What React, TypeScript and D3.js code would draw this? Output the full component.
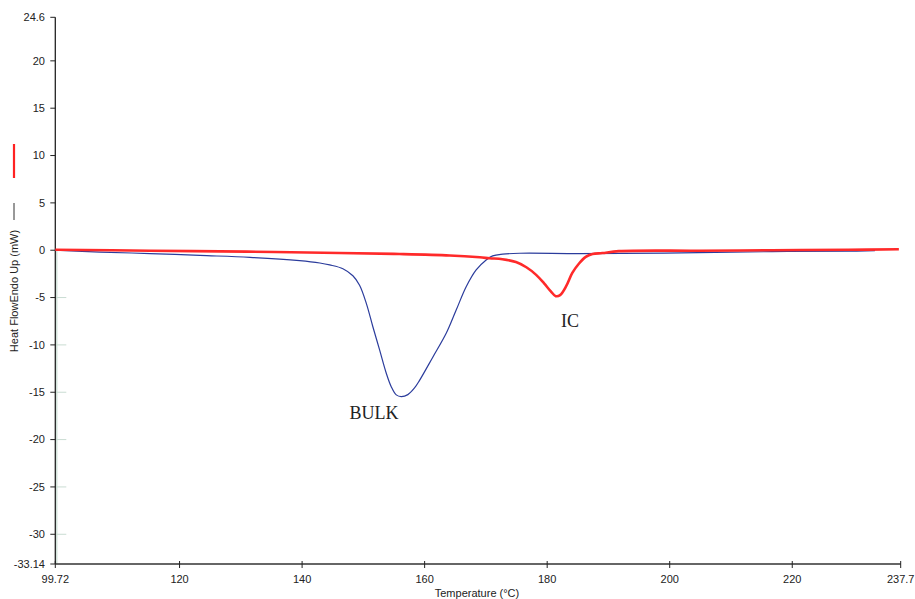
import React from "react";
import * as d3 from "d3";

const xTicks = [99.72, 120, 140, 160, 180, 200, 220, 237.7];
const yTicks = [24.6, 20, 15, 10, 5, 0, -5, -10, -15, -20, -25, -30, -33.14];

const bulkT = [99.72, 107.0, 115.2, 123.3, 131.5, 139.6, 142.9, 144.5, 146.66, 148.29, 149.38, 150.48, 151.55, 152.65, 153.74, 154.55, 155.37, 156.18, 157.26, 158.35, 159.17, 161.33, 163.52, 165.15, 166.78, 168.41, 170.04, 171.11, 172.74, 175.5, 185.2, 199.1, 216.7, 229.3, 233.5];
const bulkHF = [0, -0.2, -0.35, -0.55, -0.75, -1.1, -1.35, -1.55, -1.95, -2.7, -3.7, -5.61, -8.08, -10.53, -12.99, -14.41, -15.28, -15.46, -15.25, -14.55, -13.75, -11.3, -8.78, -6.32, -3.86, -2.08, -1.03, -0.6, -0.42, -0.32, -0.35, -0.3, -0.15, -0.1, -0.05];

const icT = [99.72, 115.2, 131.0, 146.1, 155.9, 164.1, 169.0, 170.6, 172.7, 174.9, 176.6, 178.2, 179.5, 180.6, 181.4, 182.1, 183.1, 184.1, 185.2, 186.3, 187.4, 189.0, 191.7, 204.8, 216.7, 229.2, 237.4];
const icHF = [0.05, -0.05, -0.15, -0.3, -0.4, -0.55, -0.75, -0.85, -0.95, -1.25, -1.8, -2.6, -3.5, -4.35, -4.85, -4.75, -3.8, -2.4, -1.4, -0.7, -0.4, -0.3, -0.1, -0.05, 0.0, 0.05, 0.1];

export default function App() {
  const x = d3.scaleLinear().domain([99.72, 237.7]).range([55.3, 900.7]);
  const y = d3.scaleLinear().domain([-33.14, 24.6]).range([564, 17.3]);
  const line = d3
    .line<[number, number]>()
    .x((d) => x(d[0]))
    .y((d) => y(d[1]))
    .curve(d3.curveCatmullRom.alpha(0.5));
  const bulk = bulkT.map((t, i) => [t, bulkHF[i]] as [number, number]);
  const ic = icT.map((t, i) => [t, icHF[i]] as [number, number]);
  const font = "Liberation Sans, Arial, sans-serif";
  const x0 = x(99.72);
  const yb = y(-33.14);
  return (
    <svg
      width={915}
      height={599}
      style={{ position: "absolute", left: 0, top: 0, background: "#fff" }}
      fontFamily={font}
    >
      {/* faint grid marks */}
      <line x1={x0 + 1.5} x2={x0 + 1.5} y1={y(0)} y2={yb} stroke="#c9dcd2" strokeWidth={1.2} />
      {yTicks
        .filter((v) => v < 0 && v > -33)
        .map((v) => (
          <line key={"g" + v} x1={x0} x2={x0 + 11} y1={y(v)} y2={y(v)} stroke="#c9dcd2" strokeWidth={1} />
        ))}
      {/* axes */}
      <line x1={x0} x2={x0} y1={y(24.6)} y2={yb} stroke="#222" strokeWidth={1.3} />
      <line x1={x0} x2={x(237.7)} y1={yb} y2={yb} stroke="#333" strokeWidth={1.3} />
      {yTicks.map((v) => (
        <g key={"y" + v}>
          <line x1={x0 - 5} x2={x0} y1={y(v)} y2={y(v)} stroke="#222" strokeWidth={1} />
          <text x={45} y={y(v)} dy="0.35em" textAnchor="end" fontSize={11} fill="#222">
            {v}
          </text>
        </g>
      ))}
      {xTicks.map((v) => (
        <g key={"x" + v}>
          <line x1={x(v)} x2={x(v)} y1={yb - 3} y2={yb + 4} stroke="#222" strokeWidth={1} />
          <text x={x(v)} y={583} textAnchor="middle" fontSize={11} fill="#222">
            {v}
          </text>
        </g>
      ))}
      <text x={477} y={597} textAnchor="middle" fontSize={11} fill="#222">
        Temperature (°C)
      </text>
      <text
        transform="translate(18,291) rotate(-90)"
        textAnchor="middle"
        fontSize={11}
        fill="#222"
      >
        Heat FlowEndo Up (mW)
      </text>
      <line x1={14} x2={14} y1={203} y2={220} stroke="#333" strokeWidth={1} />
      <line x1={14} x2={14} y1={144} y2={178} stroke="#ff2222" strokeWidth={2.2} />
      {/* curves */}
      <path d={line(bulk) || ""} fill="none" stroke="#2b3c9c" strokeWidth={1.2} />
      <path d={line(ic) || ""} fill="none" stroke="#ff2a2a" strokeWidth={2.6} />
      <text x={374} y={419} textAnchor="middle" fontSize={18} fontFamily="Liberation Serif, Times New Roman, serif" fill="#222">
        BULK
      </text>
      <text x={570} y={327} textAnchor="middle" fontSize={18} fontFamily="Liberation Serif, Times New Roman, serif" fill="#222">
        IC
      </text>
    </svg>
  );
}
